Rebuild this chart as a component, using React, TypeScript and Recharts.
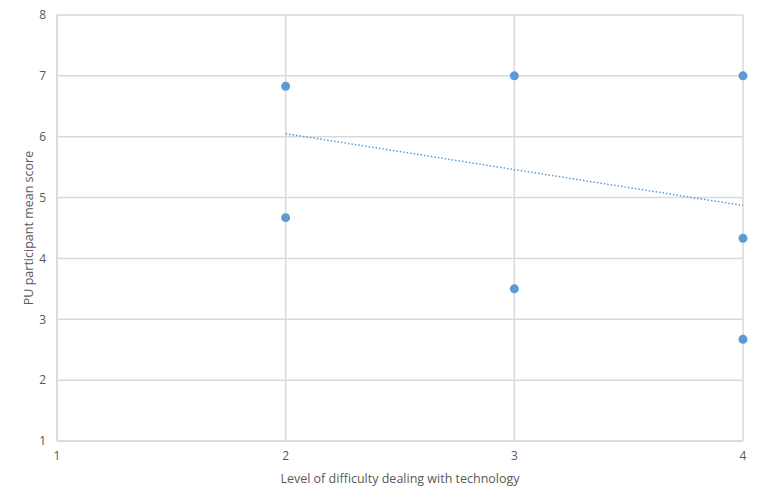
import React from 'react';
import { ScatterChart, Scatter, XAxis, YAxis, CartesianGrid, ReferenceLine } from 'recharts';

// difficulty level (x) vs PU participant mean score (y)
const difficulty = [2, 2, 3, 3, 4, 4, 4];
const puScore = [6.83, 4.67, 7, 3.5, 7, 4.33, 2.67];

// linear trendline endpoints as drawn
const trendX = [2, 4];
const trendY = [6.05, 4.87];

const xTicks = [1, 2, 3, 4];
const yTicks = [1, 2, 3, 4, 5, 6, 7, 8];

const points = difficulty.map((x, i) => ({ x, y: puScore[i] }));

const BLUE = '#5b9bd5';
const GRID = '#d9d9d9';
const TEXT = '#595959';
const FONT = '"Open Sans", "Noto Sans", sans-serif';

const Dot = (props: any) => {
  const { cx, cy } = props;
  return <circle cx={cx} cy={cy} r={4.5} fill={BLUE} />;
};

export default function App() {
  return (
    <div style={{ position: 'absolute', left: 0, top: 0, width: 762, height: 504, background: '#fff', fontFamily: FONT }}>
      <ScatterChart width={762} height={504} margin={{ top: 15, right: 19, bottom: 0, left: 0 }}>
        <CartesianGrid stroke={GRID} strokeWidth={1.5} horizontalValues={yTicks} verticalValues={xTicks} />
        <XAxis
          type="number"
          dataKey="x"
          domain={[1, 4]}
          ticks={xTicks}
          height={63}
          tickLine={false}
          tickSize={0}
          tickMargin={10}
          axisLine={{ stroke: GRID, strokeWidth: 1.5 }}
          tick={{ fill: TEXT, fontSize: 12, fontFamily: FONT }}
          label={{ value: 'Level of difficulty dealing with technology', position: 'insideBottom', offset: 21, fill: TEXT, fontSize: 12.5, fontFamily: FONT }}
        />
        <YAxis
          type="number"
          dataKey="y"
          domain={[1, 8]}
          ticks={yTicks}
          width={57}
          tickLine={false}
          tickSize={0}
          tickMargin={11}
          axisLine={{ stroke: GRID, strokeWidth: 1.5 }}
          tick={{ fill: TEXT, fontSize: 12, fontFamily: FONT }}
          label={{ value: 'PU participant mean score', angle: -90, position: 'insideLeft', offset: 29, style: { textAnchor: 'middle' }, fill: TEXT, fontSize: 12.5, fontFamily: FONT }}
        />
        <ReferenceLine
          segment={[{ x: trendX[0], y: trendY[0] }, { x: trendX[1], y: trendY[1] }]}
          stroke={BLUE}
          strokeWidth={1.5}
          strokeDasharray="1.5 2"
          ifOverflow="visible"
        />
        <Scatter data={points} fill={BLUE} shape={<Dot />} isAnimationActive={false} />
      </ScatterChart>
    </div>
  );
}
